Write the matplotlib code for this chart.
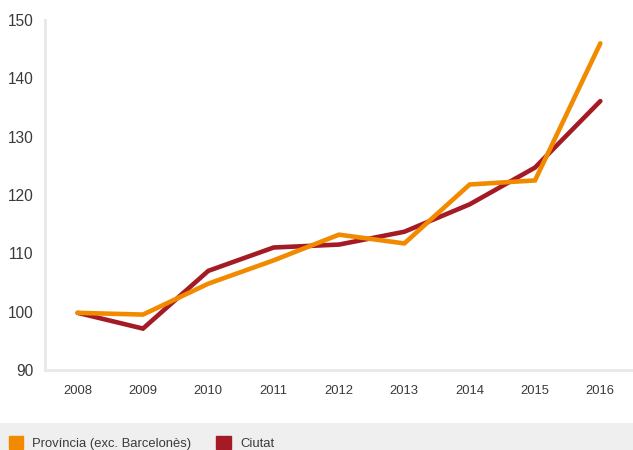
import matplotlib
matplotlib.use("Agg")
import matplotlib.pyplot as plt
from matplotlib.patches import Rectangle

plt.rcParams["font.family"] = ["Liberation Sans", "DejaVu Sans"]

years = ["2008", "2009", "2010", "2011", "2012", "2013", "2014", "2015", "2016"]
provincia = [99.8, 99.5, 104.8, 108.8, 113.2, 111.7, 121.8, 122.5, 146.0]
ciutat = [99.8, 97.1, 107.0, 111.0, 111.5, 113.7, 118.4, 124.7, 136.1]
yticks = [90, 100, 110, 120, 130, 140, 150]

ORANGE = "#f28a00"
RED = "#a51b25"
AXIS = "#e8e8e8"
TEXT = "#3a3a3a"

fig = plt.figure(figsize=(6.33, 4.5), dpi=100, facecolor="white")
ax = fig.add_axes([45 / 633, 80 / 450, (633 - 45) / 633, 350 / 450])

x = list(range(len(years)))
ax.plot(x, ciutat, color=RED, lw=3.3, solid_joinstyle="miter",
        solid_capstyle="round", label="Ciutat")
ax.plot(x, provincia, color=ORANGE, lw=3.3, solid_joinstyle="miter",
        solid_capstyle="round", label="Província (exc. Barcelonès)")

ax.set_xlim(-0.5, len(years) - 0.5)
ax.set_ylim(90, 150)
ax.set_xticks(x)
ax.set_xticklabels(years, fontsize=9.4, color=TEXT)
ax.set_yticks(yticks)
ax.set_yticklabels([str(v) for v in yticks], fontsize=11.2, color=TEXT)
ax.tick_params(axis="both", length=0)
ax.tick_params(axis="x", pad=11)
ax.tick_params(axis="y", pad=8.5)

for side in ("top", "right"):
    ax.spines[side].set_visible(False)
for side in ("left", "bottom"):
    ax.spines[side].set_color(AXIS)
    ax.spines[side].set_linewidth(2)

# grey legend band along the bottom
fig.patches.append(Rectangle((0, 0), 1, 27 / 450, transform=fig.transFigure,
                             facecolor="#efefef", edgecolor="none", zorder=0))

handles = [Rectangle((0, 0), 1, 1, color=ORANGE), Rectangle((0, 0), 1, 1, color=RED)]
labels = ["Província (exc. Barcelonès)", "Ciutat"]
fig.legend(handles, labels, loc="center left", bbox_to_anchor=(9 / 633, 7 / 450),
           ncol=2, frameon=False, fontsize=9.4, handlelength=1.1,
           handleheight=1.1, handletextpad=0.7, columnspacing=1.9,
           borderpad=0, borderaxespad=0, labelcolor=TEXT)

fig.savefig("out.png", dpi=100, facecolor="white")
